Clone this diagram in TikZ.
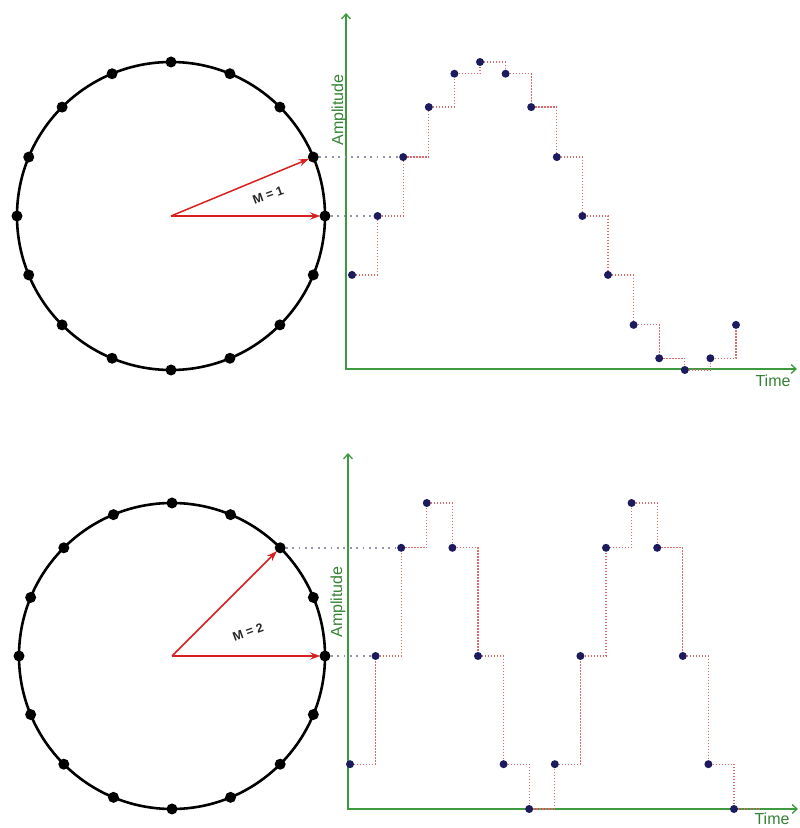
\documentclass[tikz,border=0pt]{standalone}
\usepackage{fontspec}
\setmainfont{Liberation Sans}
\usepackage{xcolor}
\usepackage{tikz}
\usetikzlibrary{arrows.meta,calc}
\definecolor{azul}{HTML}{1B1B5E}
\definecolor{rojo}{HTML}{D92020}
\definecolor{rosa}{HTML}{E06A6A}
\definecolor{verde}{HTML}{3E9A3E}
\definecolor{gris}{HTML}{9494A8}

\begin{document}
\begin{tikzpicture}[x=1pt, y=1pt,
  punto/.style={circle, fill=black, inner sep=0pt, minimum size=11pt},
  muestra/.style={circle, fill=azul, inner sep=0pt, minimum size=8pt},
  flecha/.style={-{Stealth[length=10pt, width=7pt]}, rojo, line width=1.5pt, shorten >=-1pt},
  eje/.style={{Straight Barb[length=5pt, width=9pt]}-{Straight Barb[length=5pt, width=9pt]}, verde, line width=1.3pt},
  escalon/.style={rosa, line width=1.2pt, dash pattern=on 1.2pt off 1.8pt},
  proy/.style={gris, line width=1.6pt, dash pattern=on 1.8pt off 4.6pt},
  etiq/.style={font=\fontsize{12.5}{14}\selectfont\bfseries, text=black!85},
  etiqeje/.style={font=\fontsize{16}{18}\selectfont, text=verde!85!black}]
  \useasboundingbox (0,0) rectangle (800,828);

  % M = 1
  \coordinate (o1) at (171,612);
  \draw[line width=2.6pt] (o1) circle (154);
  \foreach \i in {0,...,15}
    \node[punto] (a\i) at ($(o1)+(22.5*\i:154)$) {};
  \coordinate (ej1) at (346,459);
  \coordinate (ej1y) at (346,815);
  \coordinate (ej1x) at (797,459);
  \draw[eje] (ej1y) -- (ej1) -- (ej1x);
  \node[etiqeje, rotate=90] (amp1) at (339,718) {Amplitude};
  \node[etiqeje] (t1) at (773,447) {Time};
  \foreach \k in {0,...,15}
    \node[muestra] (m\k) at ({352+25.6*\k},{612+154*sin(22.5*(\k-1))}) {};
  \foreach \k [count=\j] in {0,...,14}
    \draw[escalon] (m\k) -| (m\j);
  \draw[proy] (a1) -- (m2);
  \draw[proy] (a0) -- (m1);
  \draw[flecha] (o1) -- (a0);
  \draw[flecha] (o1) -- (a1);
  \node[etiq, rotate=20] (lm1) at (268,633) {M = 1};

  % M = 2
  \coordinate (o2) at (172,172);
  \draw[line width=2.6pt] (o2) circle (153);
  \foreach \i in {0,...,15}
    \node[punto] (b\i) at ($(o2)+(22.5*\i:153)$) {};
  \coordinate (ej2) at (348,19);
  \coordinate (ej2y) at (348,375);
  \coordinate (ej2x) at (798,19);
  \draw[eje] (ej2y) -- (ej2) -- (ej2x);
  \node[etiqeje, rotate=90] (amp2) at (338,226) {Amplitude};
  \node[etiqeje] (t2) at (772,9) {Time};
  \foreach \k in {0,...,15}
    \node[muestra] (n\k) at ({350+25.6*\k},{172+153*sin(45*(\k-1))}) {};
  \foreach \k [count=\j] in {0,...,14}
    \draw[escalon] (n\k) -| (n\j);
  \coordinate (fin) at (760,19);
  \draw[escalon] (n15) -- (fin);
  \draw[proy] (b2) -- (n2);
  \draw[proy] (b0) -- (n1);
  \draw[flecha] (o2) -- (b0);
  \draw[flecha] (o2) -- (b2);
  \node[etiq, rotate=20] (lm2) at (248,196) {M = 2};
\end{tikzpicture}
\end{document}
